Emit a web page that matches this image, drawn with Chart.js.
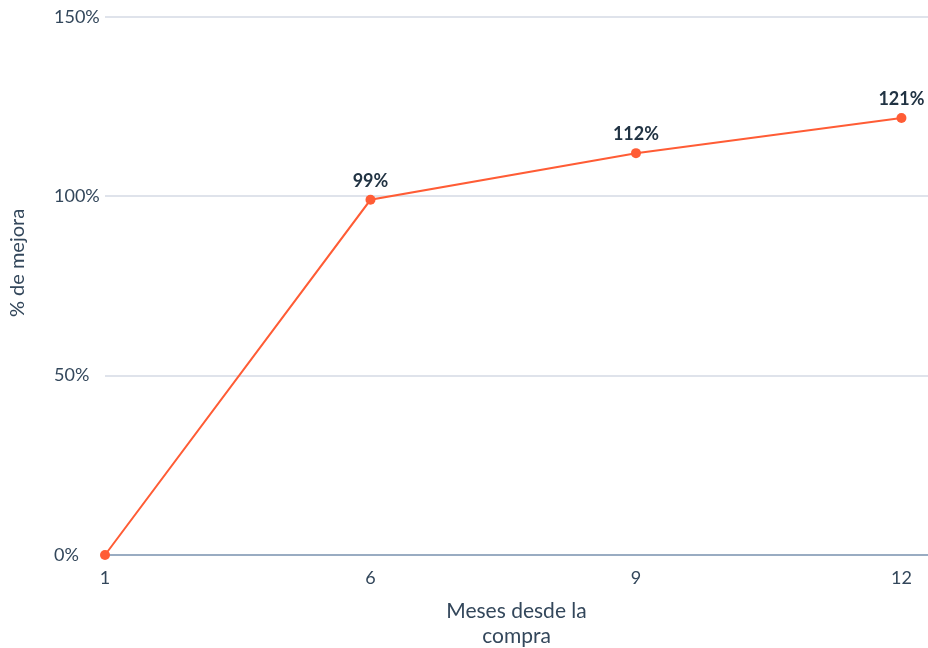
<!DOCTYPE html>
<html>
<head>
<meta charset="utf-8">
<script src="https://cdn.jsdelivr.net/npm/chart.js@4"></script>
<style>
  html, body { margin: 0; padding: 0; background: #fff; }
  #wrap { width: 928px; height: 648px; }
</style>
</head>
<body>
<div id="wrap"><canvas id="improvement-chart" width="928" height="648"></canvas></div>
<script>
// Months since purchase vs. % improvement
const months = ["1", "6", "9", "12"];
const improvement = [0, 99, 112, 121.8];
const pointLabels = ["", "99%", "112%", "121%"];
const yTicks = [0, 50, 100, 150];
const yTitle = "% de mejora";

const orange = "#ff5c35";
const textDark = "#33475b";

// draws the bold % labels above each point
const valueLabels = {
  id: "valueLabels",
  afterDatasetsDraw(chart) {
    const ctx = chart.ctx;
    const meta = chart.getDatasetMeta(0);
    ctx.save();
    ctx.font = "bold 18px Lato";
    ctx.fillStyle = "#213343";
    ctx.textAlign = "center";
    ctx.textBaseline = "bottom";
    meta.data.forEach(function (pt, i) {
      if (!pointLabels[i]) return;
      let x = pt.x;
      const w = ctx.measureText(pointLabels[i]).width;
      if (x + w / 2 > chart.width - 2) x = chart.width - 2 - w / 2;
      ctx.fillText(pointLabels[i], x, pt.y - 10);
    });
    ctx.restore();
  },
};

// y title sits left of the left-aligned tick labels
const sideTitle = {
  id: "sideTitle",
  afterDraw(chart) {
    const ctx = chart.ctx;
    ctx.save();
    ctx.translate(18, 263);
    ctx.rotate(-Math.PI / 2);
    ctx.font = "20px Lato";
    ctx.fillStyle = textDark;
    ctx.textAlign = "center";
    ctx.textBaseline = "middle";
    ctx.fillText(yTitle, 0, 0);
    ctx.restore();
  },
};

new Chart(document.getElementById("improvement-chart"), {
  type: "line",
  data: {
    datasets: [
      {
        data: improvement.map(function (v, i) { return { x: i, y: v }; }),
        borderColor: orange,
        backgroundColor: orange,
        borderWidth: 2,
        pointRadius: 5,
        pointHoverRadius: 5,
        pointBorderWidth: 0,
        tension: 0,
        clip: false,
      },
    ],
  },
  options: {
    responsive: false,
    animation: false,
    layout: {
      autoPadding: false,
      padding: { top: 9, right: 0, bottom: 0, left: 54 },
    },
    plugins: {
      legend: { display: false },
      tooltip: { enabled: false },
    },
    scales: {
      x: {
        type: "linear",
        min: 0,
        max: 3.1,
        afterBuildTicks: function (scale) {
          scale.ticks = months.map(function (m, i) { return { value: i }; });
        },
        afterFit: function (scale) {
          scale.height = 93;
          scale.paddingLeft = 0;
          scale.paddingRight = 0;
        },
        ticks: {
          color: textDark,
          font: { family: "Lato", size: 18 },
          padding: 4,
          maxRotation: 0,
          callback: function (v) { return months[v]; },
        },
        grid: { display: false },
        border: { display: false },
        title: {
          display: true,
          text: ["Meses desde la", "compra"],
          color: textDark,
          font: { family: "Lato", size: 21, lineHeight: 1.2 },
          padding: { top: 26, bottom: -1 },
        },
      },
      y: {
        min: 0,
        max: 150,
        afterBuildTicks: function (scale) {
          scale.ticks = yTicks.map(function (v) { return { value: v }; });
        },
        afterFit: function (scale) {
          scale.width = 51;
        },
        ticks: {
          color: textDark,
          font: { family: "Lato", size: 18 },
          padding: 6,
          crossAlign: "far",
          callback: function (v) { return v + "%"; },
        },
        grid: {
          color: function (c) { return c.tick.value === 0 ? "#99acc2" : "#dfe3eb"; },
          lineWidth: 2,
          drawTicks: false,
        },
        border: { display: false },
      },
    },
  },
  plugins: [valueLabels, sideTitle],
});
</script>
</body>
</html>
